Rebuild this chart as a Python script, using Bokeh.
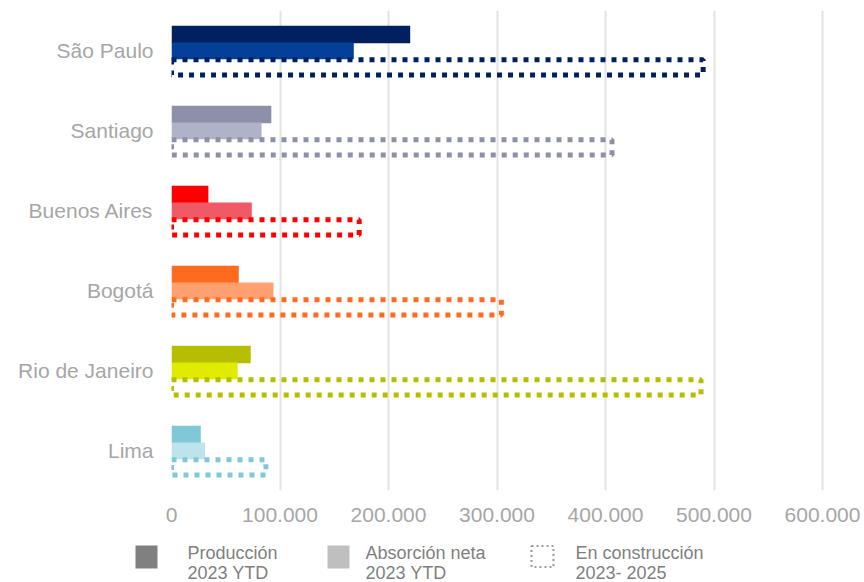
from bokeh.plotting import figure
from bokeh.models import ColumnDataSource, FactorRange, Range1d, FixedTicker
from bokeh.core.properties import value
from bokeh.transform import dodge
from bokeh.embed import file_html
from bokeh.resources import INLINE

# Office market by city: production, net absorption and space under construction (m²)
cities = ["São Paulo", "Santiago", "Buenos Aires", "Bogotá", "Rio de Janeiro", "Lima"]
produccion = [220000, 92000, 34000, 62000, 73000, 27000]
absorcion = [168000, 83000, 74000, 94000, 61000, 31000]
construccion = [490000, 406000, 173000, 304000, 488000, 87000]

color_prod = ["#002060", "#8c90a8", "#ff0000", "#ff6b1e", "#b5be00", "#7fc8d8"]
color_abs = ["#043f9a", "#b0b2c7", "#f05a66", "#ffa070", "#e0eb00", "#bde3ec"]

x_ticks = [0, 100000, 200000, 300000, 400000, 500000, 600000]
x_tick_labels = ["0", "100.000", "200.000", "300.000", "400.000", "500.000", "600.000"]

legend_line1 = ["Producción", "Absorción neta", "En construcción"]
legend_line2 = ["2023 YTD", "2023 YTD", "2023- 2025"]

src = ColumnDataSource(dict(city=cities, prod=produccion, abs=absorcion,
                            cons=construccion, cprod=color_prod, cabs=color_abs))

FONT = "Liberation Sans"
GREY_TXT = "#a6a6a6"

p = figure(width=864, height=535, output_backend="svg", toolbar_location=None,
           y_range=FactorRange(*reversed(cities)),
           x_range=Range1d(0, 635000),
           min_border_left=171, min_border_right=4, min_border_top=10,
           min_border_bottom=45)
p.outline_line_color = None
p.background_fill_color = "white"
p.border_fill_color = "white"

p.hbar(y=dodge("city", 0.2, range=p.y_range), right="prod", left=0, height=0.22,
       fill_color="cprod", line_color=None, source=src)
p.hbar(y=dodge("city", -0.005, range=p.y_range), right="abs", left=0, height=0.21,
       fill_color="cabs", line_color=None, source=src)
p.hbar(y=dodge("city", -0.21, range=p.y_range), right="cons", left=0, height=0.19,
       fill_color=None, line_color="cprod", line_width=5, line_dash="5 6",
       source=src)

# axes
p.xaxis.ticker = FixedTicker(ticks=x_ticks)
p.xaxis.major_label_overrides = {t: l for t, l in zip(x_ticks, x_tick_labels)}
for ax in (p.xaxis[0], p.yaxis[0]):
    ax.axis_line_color = None
    ax.major_tick_line_color = None
    ax.minor_tick_line_color = None
    ax.major_label_text_font = FONT
    ax.major_label_text_font_size = "21px"
    ax.major_label_text_color = GREY_TXT
p.xaxis.major_label_standoff = 11
p.yaxis.major_label_standoff = 12
p.yaxis.group_text_font_size = "0px"

p.ygrid.grid_line_color = None
p.xgrid.ticker = FixedTicker(ticks=x_ticks)
p.xgrid.grid_line_color = "#e3e3e3"
p.xgrid.grid_line_width = 2

# legend strip underneath the chart, laid out in pixel units
lf = figure(width=864, height=47, output_backend="svg", toolbar_location=None,
            x_range=Range1d(0, 864), y_range=Range1d(0, 47),
            x_axis_type=None, y_axis_type=None,
            min_border_left=0, min_border_right=0, min_border_top=0,
            min_border_bottom=0)
lf.outline_line_color = None
lf.xgrid.visible = False
lf.ygrid.visible = False

swatch_x = [146, 338, 542]
swatch_w = [22, 22, 22]
text_x = [187, 365, 575]
leg = ColumnDataSource(dict(sx=swatch_x, sw=swatch_w, tx=text_x,
                            l1=legend_line1, l2=legend_line2,
                            fill=["#808080", "#bfbfbf", None]))

lf.rect(x="sx", y=25.5, width="sw", height=23, source=leg,
        fill_color="fill", line_color=None)
dotted = ColumnDataSource(dict(sx=swatch_x[2:], sw=swatch_w[2:]))
lf.rect(x="sx", y=26, width="sw", height=21, source=dotted,
        fill_color=None, line_color="#9c9c9c", line_width=2.2, line_dash="2 3")

lf.text(x="tx", y=30, text="l1", source=leg, text_font=value(FONT),
        text_font_size="18px", text_color="#7f7f7f", text_baseline="middle")
lf.text(x="tx", y=10, text="l2", source=leg, text_font=value(FONT),
        text_font_size="18px", text_color="#7f7f7f", text_baseline="middle")

open("out.html", "w").write(file_html([p, lf], INLINE))
